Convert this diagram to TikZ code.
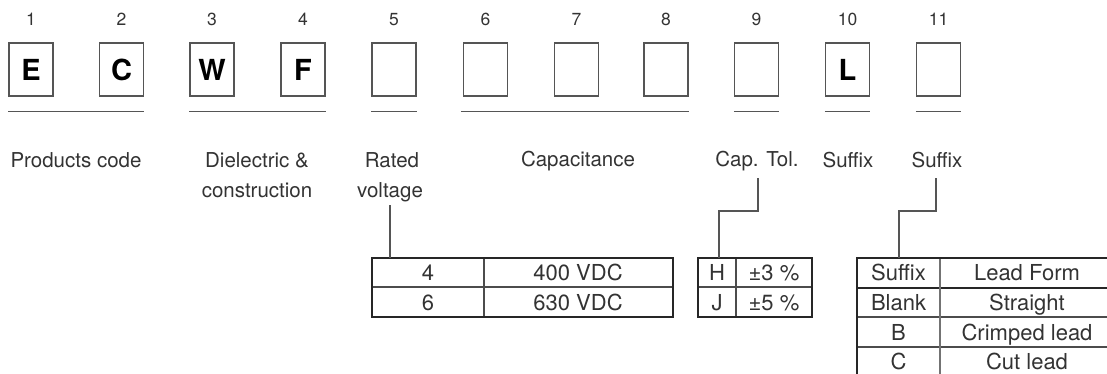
\documentclass[tikz,border=0pt]{standalone}
\usepackage{fontspec}
\setmainfont{TeX Gyre Heros}
\definecolor{txt}{HTML}{333333}
\definecolor{ln}{HTML}{555555}
\begin{document}
\begin{tikzpicture}[x=1pt,y=-1pt,
 box/.style={draw=ln, line width=1.3pt, minimum width=44pt, minimum height=53pt, inner sep=0pt, font=\fontsize{29}{29}\selectfont\bfseries, text=black},
 num/.style={font=\fontsize{17.5}{17.5}\selectfont, text=txt, anchor=base},
 lab/.style={font=\fontsize{20.5}{20.5}\selectfont, text=txt, anchor=base},
 cell/.style={font=\fontsize{22}{22}\selectfont, text=txt, anchor=base},
 uline/.style={draw=ln, line width=1pt},
 conn/.style={draw=ln, line width=1.2pt},
 tout/.style={draw=black!85, line width=2.2pt},
 tin/.style={draw=black!70, line width=1.2pt}]
\useasboundingbox (0,0) rectangle (1107,373);
\foreach \i/\x/\t in {1/31/E, 2/121.5/C, 3/212/W, 4/303/F, 5/394/{}, 6/485.5/{}, 7/576.5/{}, 8/666/{}, 9/756.5/{}, 10/847.5/L, 11/938.5/{}}{
  \node[box] (b\i) at (\x,69.5) {\t};
  \node[num] (n\i) at (\x,25) {\i};
}
\coordinate (ul) at (0,111);
\draw[uline] (b1.west |- ul) -- (b2.east |- ul);
\draw[uline] (b3.west |- ul) -- (b4.east |- ul);
\draw[uline] (b5.west |- ul) -- (b5.east |- ul);
\draw[uline] ([xshift=-2pt]b6.west |- ul) -- (b8.east |- ul);
\draw[uline] (b9.west |- ul) -- (b9.east |- ul);
\draw[uline] (b10.west |- ul) -- (b10.east |- ul);
\draw[uline] (b11.west |- ul) -- (b11.east |- ul);
% labels
\node[lab] (l1) at (76,167) {Products code};
\node[lab] (l2a) at (257,167) {Dielectric \&};
\node[lab] (l2b) at (257,197) {construction};
\node[lab] (l3a) at (392,167) {Rated};
\node[lab] (l3b) at (390,197) {voltage};
\node[lab] (l4) at (578,166) {Capacitance};
\node[lab] (l5) at (757,166) {Cap. Tol.};
\node[lab] (l6) at (848,167) {Suffix};
\node[lab] (l7) at (937,167) {Suffix};
% rated voltage table
\coordinate (rvTL) at (372,258);
\coordinate (rvBR) at (673,317);
\draw[tin] (372,287) -- (673,287);
\draw[tin] (484,258) -- (484,317);
\draw[tout] (rvTL) rectangle (rvBR);
\node[cell] (rv1a) at (428,280) {4};
\node[cell] (rv1b) at (578,280) {400 VDC};
\node[cell] (rv2a) at (428,310) {6};
\node[cell] (rv2b) at (578,310) {630 VDC};
\draw[conn] (l3b.south) -- (l3b.south |- rvTL);
% cap tol table
\coordinate (ctTL) at (698,258);
\coordinate (ctBR) at (812,317);
\draw[tin] (698,287) -- (812,287);
\draw[tin] (736,258) -- (736,317);
\draw[tout] (ctTL) rectangle (ctBR);
\node[cell] (ct1a) at (717,280) {H};
\node[cell] (ct1b) at (774,280) {±3 \%};
\node[cell] (ct2a) at (717,310) {J};
\node[cell] (ct2b) at (774,310) {±5 \%};
\coordinate (ctA) at (758,178);
\coordinate (ctB) at (719,258);
\draw[conn] (ctA) -- ++(0,33) -| (ctB);
% suffix table
\coordinate (sfTL) at (857,258);
\coordinate (sfBR) at (1114,377);
\draw[tout, line width=1.8pt] (857,288) -- (1114,288);
\draw[tin] (857,317) -- (1114,317);
\draw[tin] (857,347) -- (1114,347);
\draw[tin, draw=black!55] (940,258) -- (940,377);
\draw[tout] (sfTL) rectangle (sfBR);
\node[cell] (sf1a) at (898.5,280) {Suffix};
\node[cell] (sf1b) at (1027,280) {Lead Form};
\node[cell] (sf2a) at (898.5,310) {Blank};
\node[cell] (sf2b) at (1027,310) {Straight};
\node[cell] (sf3a) at (898.5,340) {B};
\node[cell] (sf3b) at (1027,340) {Crimped lead};
\node[cell] (sf4a) at (898.5,369) {C};
\node[cell] (sf4b) at (1027,369) {Cut lead};
\coordinate (sfA) at (936,178);
\coordinate (sfB) at (899,258);
\draw[conn] (sfA) -- ++(0,33) -| (sfB);
\end{tikzpicture}
\end{document}
